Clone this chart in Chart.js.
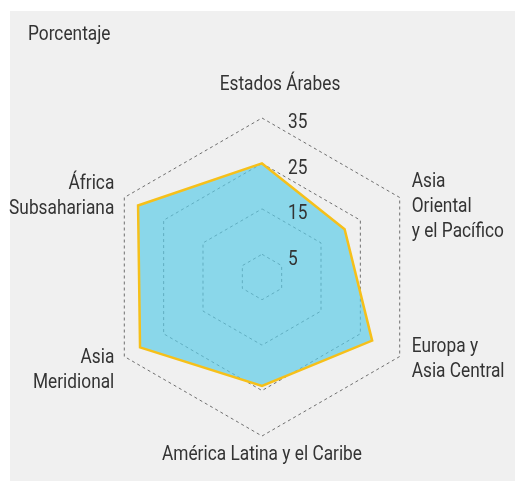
<!DOCTYPE html>
<html>
<head>
<meta charset="utf-8">
<script src="https://cdn.jsdelivr.net/npm/chart.js@4/dist/chart.umd.min.js"></script>
<style>
  html, body { margin: 0; padding: 0; background: #fff; }
  #wrap { position: relative; width: 515px; height: 481px; }
</style>
</head>
<body>
<div id="wrap"><canvas id="chart" width="515" height="481"></canvas></div>
<script>
// datos
const regions = [
    'Estados Árabes',
    ['Asia', 'Oriental', 'y el Pacífico'],
    ['Europa y', 'Asia Central'],
    'América Latina y el Caribe',
    ['Asia', 'Meridional'],
    ['África', 'Subsahariana'],
];
const shares = [25, 21, 28, 24, 31, 31.5];
const tickValues = [0, 5, 15, 25, 35];
const yAxisTitle = 'Porcentaje';

const FONT = 'Roboto, "Noto Sans", sans-serif';
const TEXT = '#333333';

// texto estrecho: Roboto comprimido en horizontal
function narrowText(ctx, t, x, y, align, sx) {
    ctx.save();
    ctx.translate(x, y);
    ctx.scale(sx, 1);
    ctx.textAlign = align;
    ctx.fillText(t, 0, 0);
    ctx.restore();
}

// fondo gris, etiquetas de los ejes y de las marcas
const labelsPlugin = {
    id: 'labels',
    beforeDraw(chart) {
        const ctx = chart.ctx;
        ctx.save();
        ctx.fillStyle = '#f0f0f0';
        ctx.fillRect(10, 11, chart.width - 10, chart.height - 11);
        ctx.restore();
    },
    afterDraw(chart, args, opts) {
        const ctx = chart.ctx;
        const scale = chart.scales.r;
        const R = scale.getDistanceFromCenterForValue(scale.max);
        ctx.save();
        ctx.fillStyle = TEXT;
        ctx.font = '21px ' + FONT;
        ctx.textBaseline = 'middle';
        // factor para que "América Latina y el Caribe" mida ~200px como en el original
        const sx = 200 / ctx.measureText('América Latina y el Caribe').width;

        narrowText(ctx, yAxisTitle, 28, 35, 'left', sx);

        tickValues.slice(1).forEach(v => {
            const d = scale.getDistanceFromCenterForValue(v);
            narrowText(ctx, String(v), scale.xCenter + 26, scale.yCenter - d + 5, 'left', sx);
        });

        const lineH = 25;
        chart.data.labels.forEach((label, i) => {
            const lines = Array.isArray(label) ? label : [label];
            const p = scale.getPointPosition(i, R);
            const [dx, dy] = opts.offsets[i];
            const dxc = p.x - scale.xCenter;
            const align = Math.abs(dxc) < 1 ? 'center' : (dxc > 0 ? 'left' : 'right');
            const top = p.y + dy - (lines.length - 1) * lineH / 2;
            lines.forEach((t, k) => narrowText(ctx, t, p.x + dx, top + k * lineH, align, sx));
        });
        ctx.restore();
    }
};

const ctx = document.getElementById('chart').getContext('2d');
new Chart(ctx, {
    type: 'radar',
    data: {
        labels: regions,
        datasets: [{
            data: shares,
            fill: true,
            backgroundColor: 'rgba(90, 203, 232, 0.68)',
            borderColor: '#f6c01a',
            borderWidth: 2.5,
            pointRadius: 0,
            pointHoverRadius: 0,
            tension: 0,
        }],
    },
    plugins: [labelsPlugin],
    options: {
        responsive: false,
        animation: false,
        layout: {
            padding: { left: 103, right: 94, top: 118, bottom: 45 },
        },
        scales: {
            r: {
                min: 0,
                max: 35,
                afterBuildTicks: scale => {
                    scale.ticks = tickValues.map(v => ({ value: v }));
                },
                angleLines: { display: false },
                grid: {
                    color: '#6f6f6f',
                    lineWidth: 1,
                    borderDash: [3, 3],
                },
                border: { dash: [3, 3] },
                ticks: { display: false },
                pointLabels: { display: false },
            },
        },
        plugins: {
            legend: { display: false },
            tooltip: { enabled: false },
            labels: {
                offsets: [[18, -33], [12, 9.5], [12, 2.5], [0, 19], [-10, 13.5], [-10, -1.5]],
            },
        },
    },
});
</script>
</body>
</html>
